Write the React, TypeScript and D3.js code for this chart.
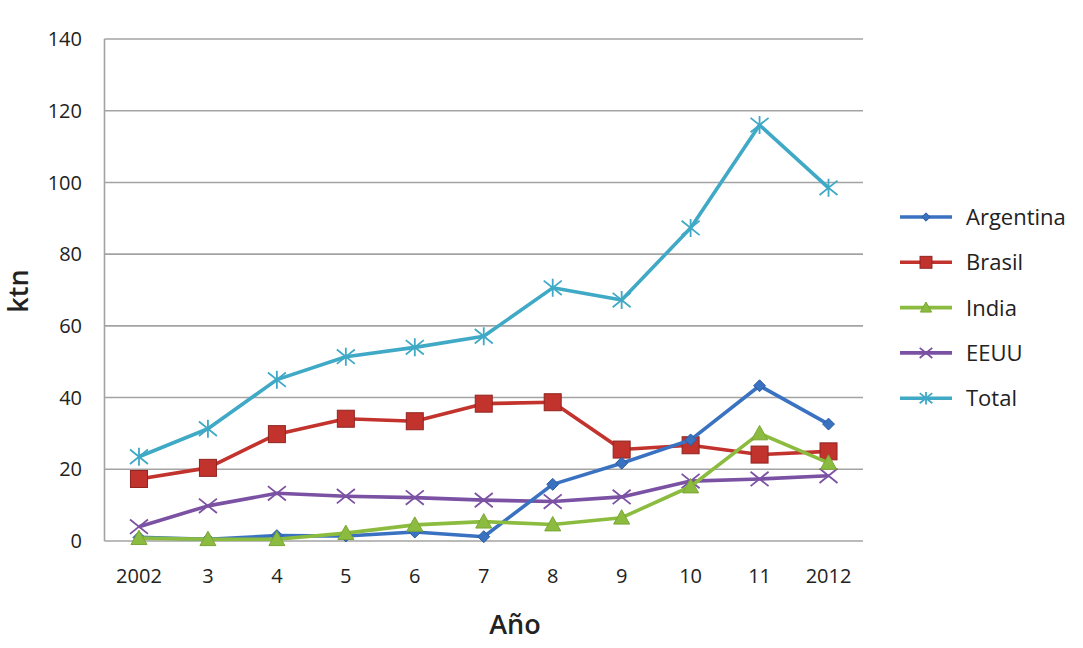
import React from "react";
import * as d3 from "d3";

const categories = ["2002", "3", "4", "5", "6", "7", "8", "9", "10", "11", "2012"];
const argentina = [1, 0.5, 1.5, 1.4, 2.5, 1.2, 15.8, 21.7, 28.2, 43.3, 32.6];
const brasil = [17.3, 20.4, 29.8, 34.1, 33.4, 38.3, 38.7, 25.5, 26.7, 24.1, 25];
const india = [0.8, 0.5, 0.5, 2.2, 4.5, 5.4, 4.6, 6.5, 15.2, 30, 21.8];
const eeuu = [4, 9.8, 13.3, 12.5, 12.1, 11.4, 11, 12.3, 16.7, 17.3, 18.2];
const total = [23.5, 31.3, 45, 51.4, 54, 57.1, 70.6, 67.2, 87.3, 116, 98.5];
const yTicks = [0, 20, 40, 60, 80, 100, 120, 140];

type Series = { name: string; values: number[]; color: string; marker: string; edge: string };
const series: Series[] = [
  { name: "EEUU", values: eeuu, color: "#7B51A3", marker: "x", edge: "#7B51A3" },
  { name: "Total", values: total, color: "#3FA9C6", marker: "star", edge: "#3FA9C6" },
  { name: "Brasil", values: brasil, color: "#C3332D", marker: "square", edge: "#8E2420" },
  { name: "Argentina", values: argentina, color: "#3A72C2", marker: "diamond", edge: "#2C5A9C" },
  { name: "India", values: india, color: "#8CBC3F", marker: "triangle", edge: "#7AA534" },
];
const legendOrder = ["Argentina", "Brasil", "India", "EEUU", "Total"];

const W = 1083;
const H = 648;
const plot = { left: 104.5, right: 863, top: 39, bottom: 541 };

function Marker({ type, x, y, color, edge, size }: { type: string; x: number; y: number; color: string; edge: string; size: number }) {
  const s = size / 2;
  if (type === "square")
    return <rect x={x - s} y={y - s} width={size} height={size} fill={color} stroke={edge} strokeWidth={1} />;
  if (type === "diamond") {
    const d = s * 0.85;
    return <path d={`M${x},${y - d}L${x + d},${y}L${x},${y + d}L${x - d},${y}Z`} fill={color} stroke={edge} strokeWidth={1} />;
  }
  if (type === "triangle")
    return <path d={`M${x},${y - s}L${x + s},${y + s * 0.8}L${x - s},${y + s * 0.8}Z`} fill={color} stroke={edge} strokeWidth={1} />;
  if (type === "x")
    return (
      <path d={`M${x - s},${y - s * 0.8}L${x + s},${y + s * 0.8}M${x - s},${y + s * 0.8}L${x + s},${y - s * 0.8}`} stroke={color} strokeWidth={1.8} fill="none" />
    );
  if (type === "star")
    return (
      <path
        d={`M${x - s},${y - s * 0.8}L${x + s},${y + s * 0.8}M${x - s},${y + s * 0.8}L${x + s},${y - s * 0.8}M${x},${y - s}L${x},${y + s}`}
        stroke={color}
        strokeWidth={1.8}
        fill="none"
      />
    );
  return null;
}

export default function App() {
  const x = d3.scaleBand<string>().domain(categories).range([plot.left, plot.right]);
  const y = d3.scaleLinear().domain([0, 140]).range([plot.bottom, plot.top]);
  const cx = (c: string) => (x(c) as number) + x.bandwidth() / 2;
  const line = d3
    .line<number>()
    .x((_, i) => cx(categories[i]))
    .y((v) => y(v));
  const font = "'Open Sans', 'Noto Sans', sans-serif";
  const sizes: Record<string, number> = { square: 17, diamond: 14, triangle: 16, x: 18, star: 18 };

  return (
    <svg width={W} height={H} style={{ position: "absolute", left: 0, top: 0 }} fontFamily={font}>
      <rect width={W} height={H} fill="#fff" />
      {yTicks.map((t) => (
        <g key={t}>
          <line x1={plot.left} x2={plot.right} y1={y(t)} y2={y(t)} stroke="#a3a3a3" strokeWidth={1.6} />
          <text x={82} y={y(t)} dy="0.36em" textAnchor="end" fontSize={20} fill="#222">
            {t}
          </text>
        </g>
      ))}
      <line x1={plot.left} x2={plot.left} y1={plot.top} y2={plot.bottom} stroke="#a3a3a3" strokeWidth={1.6} />
      {categories.map((c) => (
        <text key={c} x={cx(c)} y={576} dy="0.36em" textAnchor="middle" fontSize={20} fill="#222">
          {c}
        </text>
      ))}
      <text transform="translate(28,291) rotate(-90)" textAnchor="middle" fontSize={27} fontWeight={600} fill="#222">
        ktn
      </text>
      <text x={515} y={634} textAnchor="middle" fontSize={27} fontWeight={600} fill="#222">
        Año
      </text>
      {series.map((s) => (
        <g key={s.name}>
          <path d={line(s.values) as string} fill="none" stroke={s.color} strokeWidth={3.6} strokeLinejoin="round" />
          {s.values.map((v, i) => (
            <Marker key={i} type={s.marker} x={cx(categories[i])} y={y(v)} color={s.color} edge={s.edge} size={sizes[s.marker]} />
          ))}
        </g>
      ))}
      {legendOrder.map((n, i) => {
        const s = series.find((d) => d.name === n) as Series;
        const ly = 217 + i * 45.3;
        return (
          <g key={n}>
            <line x1={900} x2={952} y1={ly} y2={ly} stroke={s.color} strokeWidth={3.6} />
            <Marker type={s.marker} x={926} y={ly} color={s.color} edge={s.edge} size={sizes[s.marker] * 0.7} />
            <text x={966} y={ly} dy="0.36em" fontSize={22} fontWeight={500} fill="#222">
              {n}
            </text>
          </g>
        );
      })}
    </svg>
  );
}
